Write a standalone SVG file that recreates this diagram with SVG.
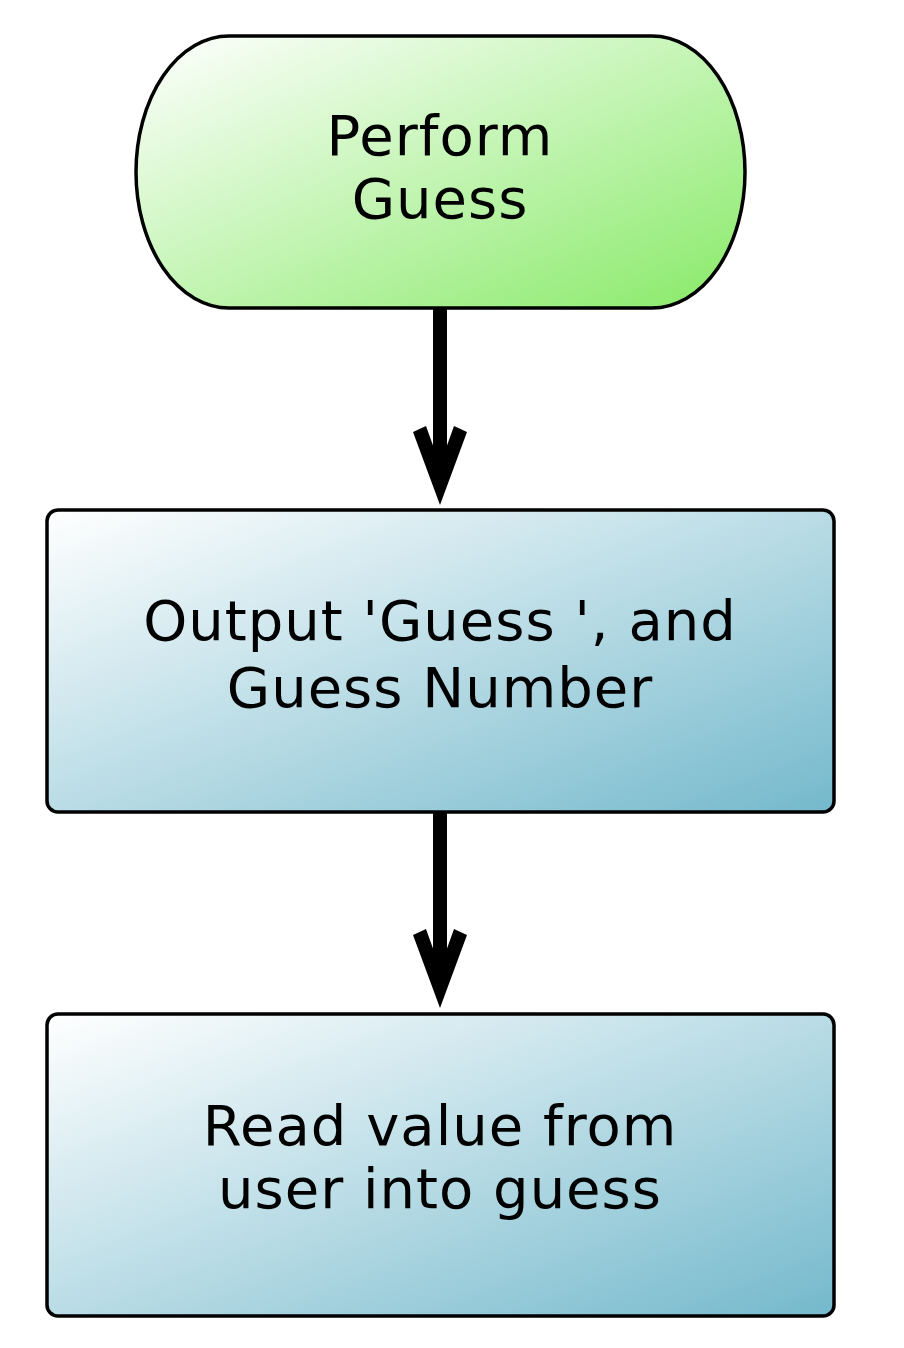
<svg xmlns="http://www.w3.org/2000/svg" width="904" height="1348" viewBox="0 0 904 1348">
  <defs>
    <linearGradient id="gGreen" x1="0" y1="0" x2="1" y2="1">
      <stop offset="0" stop-color="#ffffff"/>
      <stop offset="1" stop-color="#88ea68"/>
    </linearGradient>
    <linearGradient id="gBlue" x1="0" y1="0" x2="1" y2="1">
      <stop offset="0" stop-color="#ffffff"/>
      <stop offset="1" stop-color="#74b9cc"/>
    </linearGradient>
    <marker id="arrow" markerUnits="userSpaceOnUse" orient="auto" refX="0" refY="0" markerWidth="100" markerHeight="100" style="overflow:visible">
      <path d="M35,0 L-38,-27 L-44,-14 L-5,0 L-44,14 L-38,27 Z" fill="#000"/>
    </marker>
    <style>
      .node { stroke: #000; stroke-width: 3.5; }
      .lbl { font-family: "DejaVu Sans", "Liberation Sans", sans-serif; font-size: 56px; letter-spacing: 1px; fill: #000; text-anchor: middle; }
      .conn { stroke: #000; stroke-width: 14; fill: none; }
    </style>
  </defs>
  <rect width="904" height="1348" fill="#ffffff"/>
  <g id="connectors">
    <line class="conn" x1="440" y1="309" x2="440" y2="470" marker-end="url(#arrow)"/>
    <line class="conn" x1="440" y1="812" x2="440" y2="973" marker-end="url(#arrow)"/>
  </g>
  <g id="node-start">
    <rect class="node" x="136" y="36" width="609" height="272" rx="93" ry="136" fill="url(#gGreen)"/>
    <text class="lbl" x="440" y="155">Perform</text>
    <text class="lbl" x="440" y="218">Guess</text>
  </g>
  <g id="node-output">
    <rect class="node" x="47" y="510" width="787" height="302" rx="11" fill="url(#gBlue)"/>
    <text class="lbl" x="440" y="640">Output 'Guess ', and</text>
    <text class="lbl" x="440" y="707">Guess Number</text>
  </g>
  <g id="node-read">
    <rect class="node" x="47" y="1014" width="787" height="302" rx="11" fill="url(#gBlue)"/>
    <text class="lbl" x="440" y="1145">Read value from</text>
    <text class="lbl" x="440" y="1208">user into guess</text>
  </g>
</svg>
